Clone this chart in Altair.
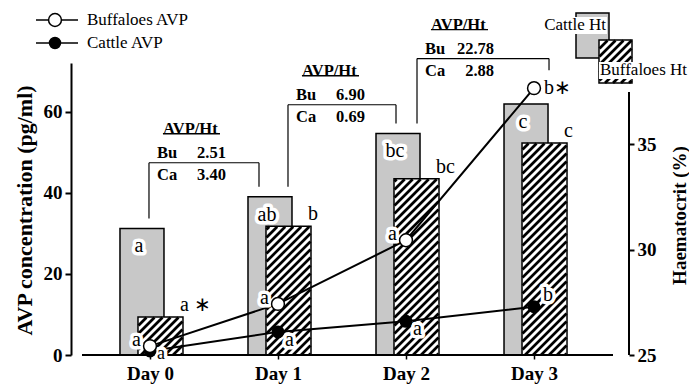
import altair as alt
import pandas as pd
import numpy as np

# ---------------- data ----------------
days = ["Day 0", "Day 1", "Day 2", "Day 3"]
cattle_ht = [31.0, 32.5, 35.5, 36.9]
buffalo_ht = [26.8, 31.1, 33.35, 35.05]
buffalo_avp = [2.2, 12.6, 28.3, 65.8]
cattle_avp = [1.0, 5.7, 8.3, 11.9]
cattle_ht_letters = ["a", "ab", "bc", "c"]
buffalo_ht_letters = ["a \u2217", "b", "bc", "c"]
buffalo_avp_letters = ["a", "a", "a", "b\u2217"]
cattle_avp_letters = ["a", "a", "a", "b"]
ratio_bu = ["2.51", "6.90", "22.78"]
ratio_ca = ["3.40", "0.69", "2.88"]
avp_ticks = [0, 20, 40, 60]
ht_ticks = [25, 30, 35]

# ---------------- layout / style ----------------
SERIF = "Liberation Serif"
W, H = 558, 292
PAD = {"left": 63, "top": 55, "right": 60, "bottom": 30}
X_MIN, X_MAX = -0.617, 3.742
AVP_MAX = 72.0
HT_MIN, HT_MAX = 25.0, 38.84
PX_X = W / (X_MAX - X_MIN)
PX_HT = H / (HT_MAX - HT_MIN)
PX_AVP = H / AVP_MAX
OX, OY = 8 + PAD["left"], 8 + PAD["top"]
STIP_L, STIP_R = -30, 14      # px offsets of cattle Ht bar from day tick
HATCH_L, HATCH_R = -12, 33    # px offsets of buffalo Ht bar
BR_L_PX = [-1, 10, 11]        # bracket vertical offsets (px) from day ticks
BR_R_PX = [-19, -10, 15]
BR_LEVEL = [47.4, 61.7, 73.1]  # bracket horizontal level (AVP units)
STIPPLE = "#c8c8c8"


def x_to_page(xd):
    return OX + (xd - X_MIN) * PX_X


def page_to_x(px):
    return X_MIN + (px - OX) / PX_X


def ht_to_page(h):
    return OY + H - (h - HT_MIN) * PX_HT


def page_to_ht(py):
    return HT_MIN + (OY + H - py) / PX_HT


def avp_to_page(a):
    return OY + H - a * PX_AVP


def page_to_avp(py):
    return (OY + H - py) / PX_AVP


def vx(px):
    return alt.value(px - OX)


def vy(py):
    return alt.value(py - OY)


def hatch_segments(x0, x1, y0, y1, period=8.0):
    segs = []
    c = np.ceil((x0 + y0) / period) * period
    while c < x1 + y1:
        xa = max(x0, c - y1)
        xb = min(x1, c - y0)
        if xb - xa > 0.3:
            segs.append((xa, c - xa, xb, c - xb))
        c += period
    return segs


xs = alt.Scale(domain=[X_MIN, X_MAX], nice=False, zero=False)
hs = alt.Scale(domain=[HT_MIN, HT_MAX], nice=False, zero=False)
avs = alt.Scale(domain=[0, AVP_MAX], nice=False, zero=False)

# ---------------- axes ----------------
x_axis = alt.Axis(values=[0, 1, 2, 3], labelExpr="'Day ' + datum.value", domain=False,
                  ticks=True, tickSize=4, tickWidth=1.5, tickColor="black",
                  labelFont=SERIF, labelFontSize=19, labelFontWeight="bold",
                  labelColor="black", labelPadding=5, labelFlush=False, grid=False,
                  title="")
right_axis = alt.Axis(orient="right", values=ht_ticks, domain=False, ticks=True,
                      tickSize=5, tickWidth=2, tickColor="black", labelPadding=3,
                      labelFont=SERIF, labelFontSize=19, labelFontWeight="bold",
                      labelColor="black", grid=False, title="Haematocrit (%)",
                      titleFont=SERIF, titleFontSize=19, titleFontWeight="bold",
                      titleColor="black", titleAngle=270, titleX=50, titleY=152,
                      titleAlign="center", titleBaseline="middle")
left_axis = alt.Axis(orient="left", values=avp_ticks, domain=True, domainColor="black",
                     domainWidth=2, ticks=True, tickSize=6, tickWidth=2, tickColor="black",
                     labelPadding=3, labelFont=SERIF, labelFontSize=19,
                     labelFontWeight="bold", labelColor="black", grid=False,
                     title="AVP concentration (pg/ml)", titleFont=SERIF, titleFontSize=22,
                     titleFontWeight="bold", titleColor="black", titleAngle=270,
                     titleX=-47, titleY=147, titleAlign="center", titleBaseline="middle")


def XQ(f):
    return alt.X(f, type="quantitative", scale=xs, axis=x_axis)


def YH(f):
    return alt.Y(f, type="quantitative", scale=hs, axis=right_axis)


def YA(f):
    return alt.Y(f, type="quantitative", scale=avs, axis=left_axis)


# ---------------- tables ----------------
idx = list(range(len(days)))
bars = pd.DataFrame({"day": idx, "cattle_ht": cattle_ht, "buffalo_ht": buffalo_ht,
                     "cl": cattle_ht_letters, "bl": buffalo_ht_letters})
bars["s0"] = bars["day"] + STIP_L / PX_X
bars["s1"] = bars["day"] + STIP_R / PX_X
bars["h0"] = bars["day"] + HATCH_L / PX_X
bars["h1"] = bars["day"] + HATCH_R / PX_X
bars["smid"] = (bars["s0"] + bars["s1"]) / 2
bars["base"] = HT_MIN

# legend boxes (top right), placed by pixel, drawn through the scales
leg_st = pd.DataFrame({"x0": [page_to_x(576)], "x1": [page_to_x(609)],
                       "y0": [page_to_ht(13)], "y1": [page_to_ht(58)]})
leg_ha = pd.DataFrame({"x0": [page_to_x(599)], "x1": [page_to_x(632)],
                       "y0": [page_to_ht(40)], "y1": [page_to_ht(83)]})

rects = []
for d in idx:
    rects.append((x_to_page(bars.loc[d, "h0"]), x_to_page(bars.loc[d, "h1"]),
                  ht_to_page(buffalo_ht[d]), ht_to_page(HT_MIN)))
rects.append((599, 632, 40, 83))
segs = []
for r in rects:
    for (xa, ya, xb, yb) in hatch_segments(r[0] + 0.5, r[1] - 0.5, r[2] + 0.5, r[3]):
        segs.append({"x": page_to_x(xa), "y": page_to_ht(ya),
                     "x2": page_to_x(xb), "y2": page_to_ht(yb)})
hatch_df = pd.DataFrame(segs)

raxis_df = pd.DataFrame({"x": [X_MAX], "y0": [HT_MIN], "y1": [page_to_ht(92)]})

avp_df = pd.DataFrame({
    "day": idx + idx,
    "avp": buffalo_avp + cattle_avp,
    "series": ["Buffaloes AVP"] * 4 + ["Cattle AVP"] * 4,
    "lab": buffalo_avp_letters + cattle_avp_letters,
})
buf = avp_df[avp_df.series == "Buffaloes AVP"]
cat = avp_df[avp_df.series == "Cattle AVP"]


def top_page(d):
    return min(ht_to_page(cattle_ht[d]), ht_to_page(buffalo_ht[d]),
               avp_to_page(buffalo_avp[d]) - 8, avp_to_page(cattle_avp[d]) - 7)


br_rows, seg_rows = [], []
for i in range(3):
    xl = i + BR_L_PX[i] / PX_X
    xr = i + 1 + BR_R_PX[i] / PX_X
    lev = BR_LEVEL[i]
    bl = page_to_avp(top_page(i) - 10)
    brr = page_to_avp(top_page(i + 1) - 10)
    seg_rows += [
        {"x": xl, "x2": xr, "y": lev, "y2": lev},
        {"x": xl, "x2": xl, "y": lev, "y2": bl},
        {"x": xr, "x2": xr, "y": lev, "y2": brr},
    ]
    br_rows.append({"xl": xl, "lev": lev, "bu": ratio_bu[i], "ca": ratio_ca[i],
                    "ux0": xl + 14 / PX_X, "ux1": xl + 71 / PX_X,
                    "uy": lev + 29 / PX_AVP})
br_df = pd.DataFrame(br_rows)
brseg_df = pd.DataFrame(seg_rows)

base_df = pd.DataFrame({"x0": [page_to_x(82)], "x1": [page_to_x(613)], "y": [0.0]})
one = pd.DataFrame({"k": [0]})


def labels(df, xf, yf, tf, Yfun, align, dx, dy, size=20, weight="normal"):
    enc = dict(x=XQ(xf), y=Yfun(yf), text=alt.Text(tf, type="nominal"))
    halo = alt.Chart(df).mark_text(align=align, baseline="middle", dx=dx, dy=dy,
                                   font=SERIF, fontSize=size, fontWeight=weight,
                                   fill="white", stroke="white", strokeWidth=7,
                                   strokeJoin="round").encode(**enc)
    txt = alt.Chart(df).mark_text(align=align, baseline="middle", dx=dx, dy=dy,
                                  font=SERIF, fontSize=size, fontWeight=weight,
                                  fill="black").encode(**enc)
    return [halo, txt]


# ---------------- Ht group (right axis) ----------------
ht_layers = []
ht_layers.append(alt.Chart(bars).mark_rect(fill=STIPPLE, stroke="black", strokeWidth=1.5).encode(
    x=XQ("s0"), x2="s1:Q", y=YH("cattle_ht"), y2="base:Q"))
ht_layers.append(alt.Chart(leg_st).mark_rect(fill=STIPPLE, stroke="black", strokeWidth=1.5).encode(
    x=XQ("x0"), x2="x1:Q", y=YH("y0"), y2="y1:Q"))
ht_layers.append(alt.Chart(bars).mark_rect(fill="white").encode(
    x=XQ("h0"), x2="h1:Q", y=YH("buffalo_ht"), y2="base:Q"))
ht_layers.append(alt.Chart(leg_ha).mark_rect(fill="white").encode(
    x=XQ("x0"), x2="x1:Q", y=YH("y0"), y2="y1:Q"))
ht_layers.append(alt.Chart(hatch_df).mark_rule(color="black", strokeWidth=2.7, strokeCap="butt").encode(
    x=XQ("x"), x2="x2:Q", y=YH("y"), y2="y2:Q"))
ht_layers.append(alt.Chart(bars).mark_rect(filled=False, stroke="black", strokeWidth=1.5).encode(
    x=XQ("h0"), x2="h1:Q", y=YH("buffalo_ht"), y2="base:Q"))
ht_layers.append(alt.Chart(leg_ha).mark_rect(filled=False, stroke="black", strokeWidth=1.5).encode(
    x=XQ("x0"), x2="x1:Q", y=YH("y0"), y2="y1:Q"))
ht_layers += labels(bars, "smid", "cattle_ht", "cl", YH, "center", -3, 18)
ht_layers += labels(bars, "h1", "buffalo_ht", "bl", YH, "left", -3, -12)
ht_layers.append(alt.Chart(raxis_df).mark_rule(color="black", strokeWidth=2).encode(
    x=XQ("x"), y=YH("y0"), y2="y1:Q"))
ht_group = alt.layer(*ht_layers)

# ---------------- AVP group (left axis) ----------------
av_layers = []
av_layers.append(alt.Chart(avp_df).mark_line(color="black", strokeWidth=2).encode(
    x=XQ("day"), y=YA("avp"), detail="series:N"))
av_layers.append(alt.Chart(base_df).mark_rule(color="black", strokeWidth=2).encode(
    x=XQ("x0"), x2="x1:Q", y=YA("y")))
av_layers += labels(buf[buf.day < 3], "day", "avp", "lab", YA, "right", -9, -6)
av_layers += labels(buf[buf.day == 3], "day", "avp", "lab", YA, "left", 10, 0)
av_layers += labels(cat[cat.day == 0], "day", "avp", "lab", YA, "left", 7, 3, size=18)
av_layers += labels(cat[(cat.day > 0) & (cat.day < 3)], "day", "avp", "lab", YA, "left", 7, 8)
av_layers += labels(cat[cat.day == 3], "day", "avp", "lab", YA, "left", 9, -12)
av_layers.append(alt.Chart(cat).mark_point(shape="circle", filled=True, fill="black",
                                           stroke="black", size=120, opacity=1).encode(
    x=XQ("day"), y=YA("avp")))
av_layers.append(alt.Chart(buf).mark_point(shape="circle", filled=True, fill="white",
                                           stroke="black", strokeWidth=1.5, size=165,
                                           opacity=1).encode(
    x=XQ("day"), y=YA("avp")))
# AVP/Ht brackets
av_layers.append(alt.Chart(brseg_df).mark_rule(color="black", strokeWidth=1.2).encode(
    x=XQ("x"), x2="x2:Q", y=YA("y"), y2="y2:Q"))
av_layers.append(alt.Chart(br_df).mark_rule(color="black", strokeWidth=1.3).encode(
    x=XQ("ux0"), x2="ux1:Q", y=YA("uy")))
for txt, dx, dy in [("AVP/Ht", 14, -34), ("Bu", 8, -10), ("Ca", 8, 12)]:
    av_layers.append(alt.Chart(br_df).mark_text(text=txt, align="left", baseline="middle",
                                                dx=dx, dy=dy, font=SERIF, fontSize=16.5,
                                                fontWeight="bold", fill="black").encode(
        x=XQ("xl"), y=YA("lev")))
for f, dy in [("bu", -10), ("ca", 12)]:
    av_layers.append(alt.Chart(br_df).mark_text(align="right", baseline="middle", dx=77,
                                                dy=dy, font=SERIF, fontSize=16.5,
                                                fontWeight="bold", fill="black").encode(
        x=XQ("xl"), y=YA("lev"), text=alt.Text(f, type="nominal")))

# legend top-left (pixel placement, page coordinates)
for py, name, fillc in [(20, "Buffaloes AVP", "white"), (43, "Cattle AVP", "black")]:
    av_layers.append(alt.Chart(one).mark_rule(color="black", strokeWidth=1.5).encode(
        x=vx(36), x2=vx(78), y=vy(py)))
    av_layers.append(alt.Chart(one).mark_point(shape="circle", filled=True, fill=fillc,
                                               stroke="black", strokeWidth=1.5,
                                               size=165 if fillc == "white" else 120,
                                               opacity=1).encode(
        x=vx(55), y=vy(py)))
    av_layers.append(alt.Chart(one).mark_text(text=name, align="left", baseline="middle",
                                              font=SERIF, fontSize=17, fill="black").encode(
        x=vx(87), y=vy(py)))

# legend top-right texts with white backing
av_layers.append(alt.Chart(one).mark_rect(fill="white").encode(
    x=vx(542), x2=vx(607), y=vy(17), y2=vy(34)))
av_layers.append(alt.Chart(one).mark_text(text="Cattle Ht", align="right", baseline="middle",
                                          font=SERIF, fontSize=17, fill="black").encode(
    x=vx(606), y=vy(25)))
av_layers.append(alt.Chart(one).mark_rect(fill="white").encode(
    x=vx(599), x2=vx(689), y=vy(62), y2=vy(79)))
av_layers.append(alt.Chart(one).mark_text(text="Buffaloes Ht", align="left", baseline="middle",
                                          font=SERIF, fontSize=17, fill="black").encode(
    x=vx(600), y=vy(70)))
av_group = alt.layer(*av_layers)

chart = alt.layer(ht_group, av_group).resolve_scale(y="independent").properties(
    width=W, height=H, padding=PAD, autosize=alt.AutoSizeParams(type="none"),
    background="white",
).configure_view(stroke="transparent")

chart.save("out.html", embed_options={"renderer": "svg", "actions": False})
